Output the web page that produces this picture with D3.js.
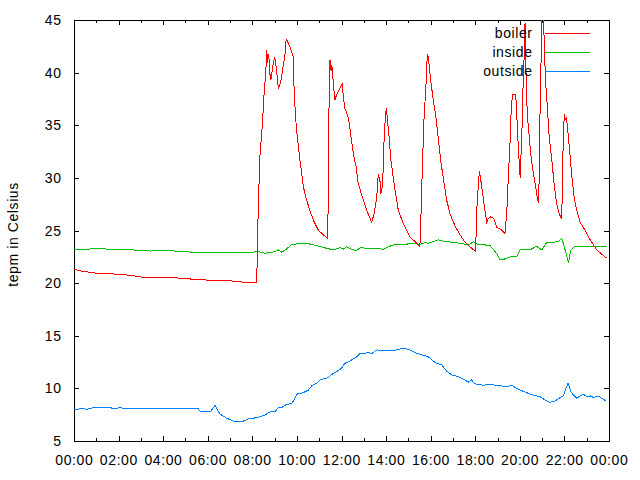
<!DOCTYPE html>
<html>
<head>
<meta charset="utf-8">
<script src="https://cdn.jsdelivr.net/npm/d3@7/dist/d3.min.js"></script>
<style>
html,body{margin:0;padding:0;background:#fff;}
svg{display:block;}
text{font-family:"Liberation Sans",Arial,sans-serif;font-size:14px;fill:#000;letter-spacing:0.6px;}
</style>
</head>
<body>
<script>
// ---- data ----
const seriesNames = ["boiler", "inside", "outside"];
const seriesColors = ["#ff0000", "#00c000", "#0080ff"];

const xTickLabels = ["00:00","02:00","04:00","06:00","08:00","10:00","12:00","14:00","16:00","18:00","20:00","22:00","00:00"];
const yTickValues = [5, 10, 15, 20, 25, 30, 35, 40, 45];
const yLabel = "tepm in Celsius";

const boilerTimes = ["00:00","00:20","01:00","01:35","02:15","02:40","03:05","04:00","04:35","05:10","05:50","06:50","07:35","08:10","08:13","08:16","08:21","08:25","08:30","08:32","08:36","08:39","08:41","08:44","08:48","08:50","08:55","09:00","09:03","09:06","09:10","09:14","09:19","09:23","09:28","09:31","09:37","09:46","09:50","09:53","09:59","10:04","10:08","10:13","10:17","10:26","10:35","10:44","10:58","11:11","11:22","11:24","11:25","11:27","11:29","11:32","11:34","11:38","11:42","11:47","11:56","12:02","12:05","12:09","12:16","12:21","12:26","12:32","12:39","12:45","12:54","13:08","13:21","13:28","13:35","13:39","13:44","13:46","13:50","13:53","13:55","13:59","14:01","14:03","14:08","14:13","14:19","14:24","14:33","14:46","15:04","15:22","15:31","15:34","15:38","15:42","15:45","15:48","15:51","15:54","15:56","16:01","16:07","16:14","16:21","16:28","16:36","16:43","16:52","17:06","17:19","17:32","17:46","18:01","18:04","18:08","18:11","18:15","18:20","18:26","18:31","18:35","18:42","18:50","18:58","19:11","19:20","19:25","19:29","19:34","19:36","19:40","19:49","19:52","19:55","19:59","20:01","20:04","20:07","20:09","20:12","20:14","20:17","20:20","20:26","20:31","20:38","20:44","20:48","20:50","20:52","20:54","20:57","21:00","21:02","21:05","21:09","21:14","21:19","21:26","21:33","21:39","21:46","21:52","21:54","21:57","22:00","22:02","22:05","22:08","22:13","22:20","22:26","22:33","22:42","22:55","23:07","23:27","23:49","23:55"];
const boilerValues = [21.3,21.15,20.95,20.9,20.8,20.7,20.55,20.5,20.5,20.4,20.3,20.25,20.1,20.1,21.6,27.4,32.5,34.1,36.8,38.3,39.9,42.1,40.9,41.8,39.6,39.3,40.6,41.5,40.9,39.9,38.5,38.8,39.6,40.6,41.8,43.2,42.8,42.0,41.5,37.7,34.5,33.0,31.7,30.4,29.2,27.9,26.9,26.0,25.0,24.6,24.3,26.9,33.0,38.3,41.2,40.2,40.7,39.0,37.4,37.9,38.5,39.0,37.7,36.6,36.0,35.2,33.8,32.3,31.1,29.5,28.4,26.9,25.8,26.6,28.2,30.4,29.6,28.5,29.2,31.4,34.2,36.1,36.6,35.8,33.9,31.7,30.1,28.85,26.9,25.7,24.4,23.8,23.45,26.6,31.4,35.5,37.4,39.3,41.8,41.5,40.6,39.0,37.4,35.8,33.6,31.4,29.5,27.9,26.6,25.4,24.6,23.9,23.45,23.0,26.9,29.2,30.6,29.8,28.5,26.9,25.8,26.15,26.3,26.15,25.3,25.05,24.7,26.9,30.1,33.6,35.8,37.9,37.9,35.8,33.6,31.1,30.0,33.0,35.8,39.3,41.8,44.7,39.3,36.1,33.6,31.7,30.1,28.85,27.9,27.6,29.8,35.5,40.9,46.0,47.0,43.7,39.3,36.8,33.9,31.7,29.2,27.6,26.6,26.1,27.9,34.2,36.1,35.5,35.8,34.9,33.0,30.1,28.2,26.95,25.8,25.05,24.25,23.15,22.5,22.4];

const insideTimes = ["00:00","00:25","01:10","01:37","02:40","03:25","04:10","05:03","06:15","08:03","08:12","08:34","08:56","09:10","09:19","09:32","09:46","10:26","10:53","11:20","11:38","11:56","12:05","12:14","12:27","12:39","12:52","13:08","13:44","13:50","14:10","14:24","14:55","15:04","15:31","15:45","15:54","16:07","16:21","16:30","16:43","17:10","17:32","17:46","17:55","18:06","18:22","18:40","18:58","19:07","19:20","19:34","19:52","20:01","20:27","20:45","20:59","21:12","21:30","21:39","21:44","21:53","22:02","22:11","22:17","22:29","23:00","23:27","23:55"];
const insideValues = [23.15,23.2,23.3,23.2,23.15,23.05,23.1,22.96,22.93,22.93,23.05,22.83,22.95,23.15,22.95,23.24,23.69,23.78,23.56,23.31,23.15,23.37,23.24,23.46,23.2,23.1,23.37,23.3,23.3,23.15,23.5,23.69,23.69,23.78,23.69,23.84,23.78,23.94,24.1,24.03,23.94,23.84,23.7,23.7,23.94,23.7,23.65,23.56,22.8,22.2,22.3,22.5,22.55,23.15,23.15,23.5,23.15,23.84,23.84,24.0,23.94,24.26,23.15,21.9,23.15,23.5,23.5,23.45,23.5];

const outsideTimes = ["00:00","00:21","00:34","00:52","01:37","01:50","02:04","02:17","02:58","04:10","04:27","05:35","05:39","06:09","06:20","06:26","06:33","06:51","07:09","07:36","07:49","08:03","08:21","08:34","08:48","09:01","09:10","09:19","09:32","09:46","10:02","10:13","10:31","10:40","10:53","11:02","11:24","11:38","11:51","12:00","12:09","12:23","12:41","12:50","12:59","13:12","13:21","13:35","14:02","14:28","14:42","14:51","15:04","15:22","15:40","15:54","16:12","16:30","16:43","16:57","17:14","17:32","17:41","17:50","17:59","18:13","18:22","18:31","19:07","19:25","19:38","19:52","20:05","20:18","20:36","20:54","21:08","21:21","21:35","21:48","21:57","22:04","22:10","22:17","22:24","22:33","22:42","22:51","23:00","23:11","23:18","23:31","23:40","23:51"];
const outsideValues = [7.95,8.1,8.0,8.17,8.17,8.05,8.2,8.04,8.1,8.04,8.1,8.04,7.85,7.85,8.42,7.95,7.57,7.16,6.9,6.9,7.09,7.16,7.31,7.47,7.78,7.78,8.2,8.17,8.49,8.55,9.53,9.53,9.84,10.25,10.48,10.8,11.02,11.43,11.68,11.9,12.38,12.6,13.0,13.3,13.3,13.42,13.3,13.65,13.6,13.65,13.8,13.8,13.65,13.33,13.14,13.0,12.44,12.22,11.65,11.27,11.11,10.8,10.58,10.8,10.42,10.4,10.23,10.4,10.25,10.16,10.3,10.0,9.78,9.59,9.37,9.21,8.9,8.68,8.8,9.12,9.3,10.0,10.48,9.69,9.37,9.06,9.28,9.44,9.21,9.28,9.12,9.28,9.06,8.83];

// ---- build ----
const W = 640, H = 480;
const pLeft = 74, pRight = 609, pTop = 20, pBottom = 441;
const toHours = s => { const [h, m] = s.split(":").map(Number); return h + m / 60; };

const series = [
  {times: boilerTimes, values: boilerValues},
  {times: insideTimes, values: insideValues},
  {times: outsideTimes, values: outsideValues}
].map((s, i) => ({
  name: seriesNames[i], color: seriesColors[i],
  pts: s.times.map((t, j) => [toHours(t), s.values[j]])
}));

const x = d3.scaleLinear().domain([0, 24]).range([pLeft, pRight]);
const y = d3.scaleLinear().domain([5, 45]).range([pBottom, pTop]);

const svg = d3.select("body").append("svg").attr("width", W).attr("height", H);

svg.append("defs").append("clipPath").attr("id", "clip")
  .append("rect").attr("x", pLeft).attr("y", pTop).attr("width", pRight - pLeft).attr("height", pBottom - pTop);

const crisp = v => Math.round(v) + 0.5;

// ticks
const tickG = svg.append("g").attr("stroke", "#000").attr("stroke-width", 1).attr("shape-rendering", "crispEdges");
d3.range(0, 25, 1).forEach(h => {
  const len = h % 2 === 0 ? 5 : 3;
  const xx = crisp(x(h));
  tickG.append("line").attr("x1", xx).attr("x2", xx).attr("y1", pBottom).attr("y2", pBottom - len);
  tickG.append("line").attr("x1", xx).attr("x2", xx).attr("y1", pTop).attr("y2", pTop + len);
});
yTickValues.forEach(v => {
  const yy = crisp(y(v));
  tickG.append("line").attr("x1", pLeft).attr("x2", pLeft + 5).attr("y1", yy).attr("y2", yy);
  tickG.append("line").attr("x1", pRight).attr("x2", pRight - 5).attr("y1", yy).attr("y2", yy);
});

// border
svg.append("rect").attr("x", pLeft + 0.5).attr("y", pTop + 0.5)
  .attr("width", pRight - pLeft).attr("height", pBottom - pTop)
  .attr("fill", "none").attr("stroke", "#000").attr("shape-rendering", "crispEdges");

// tick labels
svg.append("g").selectAll("text").data(yTickValues).join("text")
  .attr("x", 61.6).attr("y", d => y(d)).attr("text-anchor", "end")
  .attr("dominant-baseline", "central").text(d => d);

svg.append("g").selectAll("text").data(xTickLabels).join("text")
  .attr("x", (d, i) => x(i * 2) + 0.3).attr("y", 465).attr("text-anchor", "middle").text(d => d);

// y label
svg.append("text").attr("transform", `translate(18,${(pTop + pBottom) / 2 + 4}) rotate(-90)`)
  .attr("text-anchor", "middle").text(yLabel);

// lines
const line = d3.line().x(d => x(d[0])).y(d => y(d[1]));
const plotG = svg.append("g").attr("clip-path", "url(#clip)");
series.slice().reverse().forEach(s => {
  plotG.append("path").datum(s.pts).attr("d", line)
    .attr("fill", "none").attr("stroke", s.color).attr("stroke-width", 1)
    .attr("shape-rendering", "crispEdges");
});

// legend
const legRows = [33, 52, 71];
series.forEach((s, i) => {
  svg.append("text").attr("x", 532.6).attr("y", legRows[i]).attr("text-anchor", "end")
    .attr("dominant-baseline", "central").text(s.name);
  svg.append("line").attr("x1", 545).attr("x2", 590)
    .attr("y1", legRows[i] + 0.5).attr("y2", legRows[i] + 0.5)
    .attr("stroke", s.color).attr("shape-rendering", "crispEdges");
});
</script>
</body>
</html>
